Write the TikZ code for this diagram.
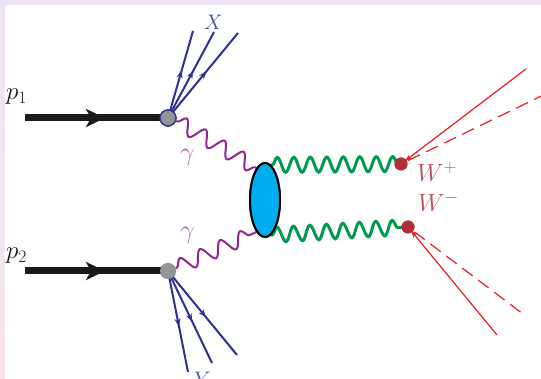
\RequirePackage{fix-cm}
\documentclass[tikz,border=0pt]{standalone}
\usetikzlibrary{arrows.meta,decorations.pathmorphing,decorations.markings,shapes.geometric}
\definecolor{bgtop}{HTML}{ECE4F6}
\definecolor{bgbot}{HTML}{FAE4EC}
\definecolor{jetblue}{HTML}{2E3192}
\definecolor{labblue}{HTML}{4A4EA6}
\definecolor{phpurple}{HTML}{92278F}
\definecolor{labpurple}{HTML}{B066AD}
\definecolor{wgreen}{HTML}{009A4E}
\definecolor{corecyan}{HTML}{00AEEF}
\definecolor{lepred}{HTML}{ED1C24}
\definecolor{dotred}{HTML}{B0303A}
\definecolor{labred}{HTML}{B8545E}
\definecolor{blobgray}{HTML}{939598}
\definecolor{protonblack}{HTML}{1A1A1A}
\begin{document}
\begin{tikzpicture}[x=1pt,y=-1pt,
  proton/.style={line width=7pt,draw=protonblack,
    postaction={decorate},decoration={markings,
      mark=at position 80pt with {\arrow[protonblack]{Stealth[length=19pt,width=18pt,inset=5pt]}}}},
  jet/.style={line width=2pt,draw=jetblue,
    postaction={decorate},decoration={markings,
      mark=at position 0.55 with {\arrow[jetblue]{Stealth[length=8pt,width=6pt]}}}},
  photon/.style={line width=2pt,draw=phpurple,
    decorate,decoration={snake,segment length=22pt,amplitude=7.5pt,pre length=1pt,post length=1pt}},
  wboson/.style={line width=3pt,draw=wgreen,
    decorate,decoration={snake,segment length=16.5pt,amplitude=7.5pt,pre length=1pt,post length=2pt}},
  lepton/.style={line width=1.2pt,draw=lepred},
  leparrow/.style={lepton,-{Stealth[length=7pt,width=5pt,inset=2pt]}},
  lepdash/.style={lepton,dash pattern=on 13pt off 7pt},
  blob/.style={circle,fill=blobgray,minimum size=16pt,inner sep=0pt},
  wdot/.style={circle,fill=dotred,minimum size=13pt,inner sep=0pt},
  corestyle/.style={draw=black,line width=2pt,fill=corecyan,ellipse,minimum width=30pt,minimum height=74pt,inner sep=0pt},
  lab/.style={inner sep=0pt,anchor=base west},
  plab/.style={lab,font=\fontsize{25}{29}\selectfont,text=protonblack},
  jlab/.style={lab,font=\fontsize{21}{25}\selectfont,text=labblue},
  glab/.style={lab,font=\fontsize{26}{30}\selectfont,text=labpurple},
  wlab/.style={lab,font=\fontsize{25}{29}\selectfont,text=labred}]
\useasboundingbox (0,0) rectangle (541,379);
\shade[top color=bgtop,bottom color=bgbot] (0,0) rectangle (541,379);
\fill[white] (5,5) rectangle (541,379);

% vertices and end points
\node[blob,draw=jetblue,line width=1.3pt] (b1) at (168,118) {};
\node[blob] (b2) at (168,271) {};
\node[corestyle] (core) at (265,200) {};
\node[wdot] (wp) at (401,164) {};
\node[wdot] (wm) at (408,227) {};
\coordinate (p1s) at (25,118);
\coordinate (p2s) at (25,271);
\coordinate (x1) at (193,31);
\coordinate (x2) at (214,32);
\coordinate (x3) at (238,33);
\coordinate (y1) at (188,372);
\coordinate (y2) at (212,363);
\coordinate (y3) at (237,355);
\coordinate (l1) at (526,69);
\coordinate (l2) at (562,86);
\coordinate (l3) at (497,335);
\coordinate (l4) at (523,314);

% jets
\draw[jet] (b1.center) -- (x1);
\draw[jet] (b1.center) -- (x2);
\draw[jet] (b1.center) -- (x3);
\draw[jet] (b2.center) -- (y1);
\draw[jet] (b2.center) -- (y2);
\draw[jet] (b2.center) -- (y3);

% protons
\draw[proton] (p1s) -- (b1.center);
\draw[proton] (p2s) -- (b2.center);

% photons
\draw[photon] (b1.-20) -- (core.105);
\draw[photon] (b2.20) -- (core.255);

% W bosons
\draw[wboson] (core.80) -- (wp.center);
\draw[wboson] (core.-80) -- (wm.center);

% leptons
\draw[leparrow,shorten >=5pt] (l1) -- (wp.center);
\draw[lepdash,shorten <=8pt] (wp.center) -- (l2);
\draw[leparrow,shorten >=5pt] (l3) -- (wm.center);
\draw[lepdash,shorten <=8pt] (wm.center) -- (l4);

% redraw vertices on top
\node[corestyle] at (265,200) {};
\node[blob,draw=jetblue,line width=1.3pt] at (168,118) {};
\node[blob] at (168,271) {};
\node[wdot] at (401,164) {};
\node[wdot] at (408,227) {};

% labels
\node[plab] (lp1) at (6,100) {$p_1$};
\node[plab] (lp2) at (6,259) {$p_2$};
\node[jlab] (lx) at (204,30) {$X$};
\node[jlab] (ly) at (194,387) {$Y$};
\node[glab] (lg1) at (180,161) {$\gamma$};
\node[glab] (lg2) at (180,239) {$\gamma$};
\node[wlab] (lwp) at (417,182) {$W^{+}$};
\node[wlab] (lwm) at (418,212) {$W^{-}$};
\end{tikzpicture}
\end{document}
